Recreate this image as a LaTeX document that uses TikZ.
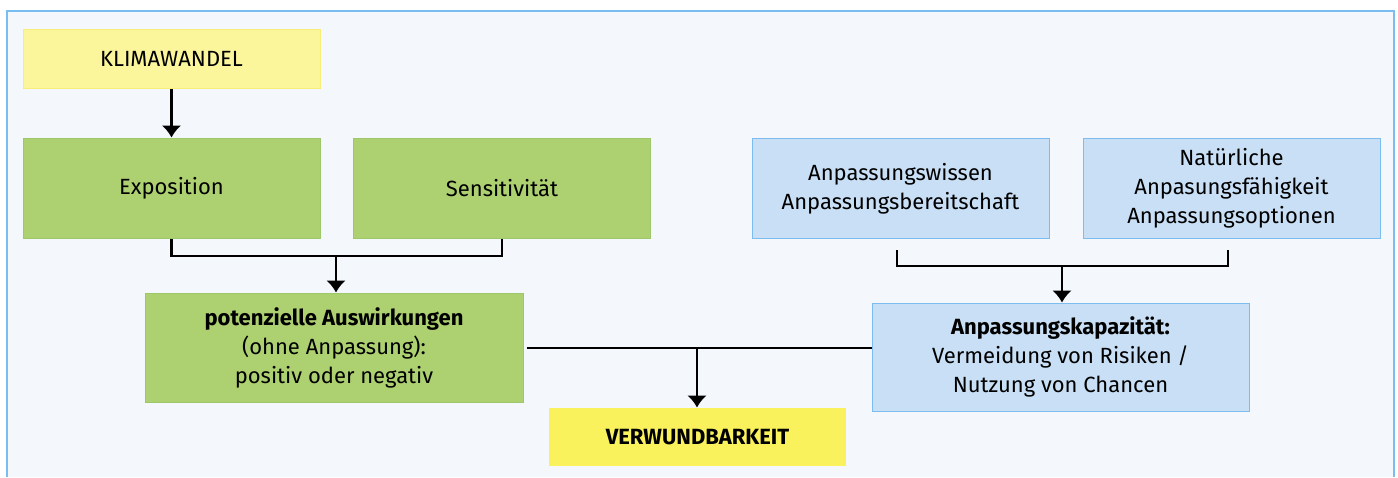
\documentclass[tikz,border=0pt]{standalone}
\usepackage{fontspec}
\setmainfont{Fira Sans}
\usetikzlibrary{backgrounds,arrows.meta}
\definecolor{xframe}{RGB}{120,190,240}
\definecolor{xback}{RGB}{244,248,252}
\definecolor{xyellow}{RGB}{251,246,155}
\definecolor{xyellowline}{RGB}{247,238,120}
\definecolor{xgold}{RGB}{250,242,92}
\definecolor{xgreen}{RGB}{173,208,112}
\definecolor{xgreenline}{RGB}{156,200,106}
\definecolor{xblue}{RGB}{200,223,245}
\definecolor{xblueline}{RGB}{125,188,238}
\begin{document}
\begin{tikzpicture}[x=1pt, y=-1pt,
  every node/.style={font=\fontsize{22}{29}\selectfont, align=center, inner sep=0pt},
  box/.style={rectangle, line width=1pt, minimum width=297pt, minimum height=100pt},
  link/.style={line width=2.7pt},
  >={Latex[length=12pt,width=20pt]}]
\useasboundingbox (0,0) rectangle (1398,477);
% left column
\node[box, draw=xyellowline, fill=xyellow, minimum height=59pt] at (171.5, 58.5) (klima) {KLIMAWANDEL};
\node[box, draw=xgreenline, fill=xgreen] at (171.5, 188) (expo) {Exposition};
\node[box, draw=xgreenline, fill=xgreen] at (502, 188) (sensi) {Sensitivität};
\node[box, draw=xgreenline, fill=xgreen, minimum width=378pt, minimum height=109pt] at (334, 347.5) (pot)
  {\textbf{potenzielle Auswirkungen}\\(ohne Anpassung):\\positiv oder negativ};
% right column
\node[box, draw=xblueline, fill=xblue] at (900.5, 188.5) (wissen) {Anpassungswissen\\Anpassungsbereitschaft};
\node[box, draw=xblueline, fill=xblue] at (1231.5, 188.5) (natur) {Natürliche\\Anpasungsfähigkeit\\Anpassungsoptionen};
\node[box, draw=xblueline, fill=xblue, minimum width=377pt, minimum height=108pt] at (1060.5, 357) (kap)
  {\textbf{Anpassungskapazität:}\\Vermeidung von Risiken /\\Nutzung von Chancen};
% result
\node[box, fill=xgold, minimum height=58pt] at (697.5, 437) (verw) {\textbf{VERWUNDBARKEIT}};
\coordinate (j1) at (336, 256);
\coordinate (j2) at (1062, 266);
\coordinate (b1) at (897, 250);
\coordinate (b2) at (1228, 250);
\coordinate (j3) at (697, 348);
\begin{scope}[on background layer]
\fill[xback] (7,11) rectangle (1394,477);
\draw[xframe, line width=1.5pt] (7,477) -- (7,11) -- (1394,11) -- (1394,477);
\draw[link, ->] (klima) -- (expo);
\draw[link] (expo.south) -- (expo.south |- j1) -- (sensi.south |- j1) -- (sensi.south);
\draw[link, ->] (j1) -- (j1 |- pot.north);
\draw[link] (b1) -- (b1 |- j2) -- (b2 |- j2) -- (b2);
\draw[link, ->] (j2) -- (j2 |- kap.north);
\draw[link] ([xshift=3pt]pot.east |- j3) -- (kap.west |- j3);
\draw[link, ->] (j3) -- (j3 |- verw.north);
\end{scope}
\end{tikzpicture}
\end{document}
